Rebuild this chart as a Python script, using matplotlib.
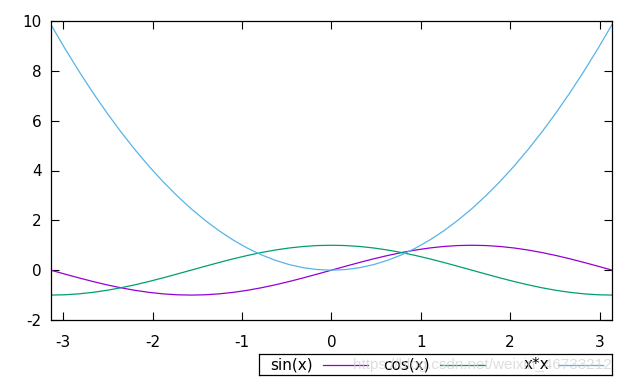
import matplotlib
matplotlib.use("Agg")
import matplotlib.pyplot as plt
from matplotlib.lines import Line2D

plt.rcParams['font.family'] = ['DejaVu Sans']
plt.rcParams['axes.unicode_minus'] = False

# sample points (k * pi/20, k = -20..20)
x_vals = [-3.1416, -2.9845, -2.8274, -2.6704, -2.5133, -2.3562, -2.1991, -2.0420,
          -1.8850, -1.7279, -1.5708, -1.4137, -1.2566, -1.0996, -0.9425, -0.7854,
          -0.6283, -0.4712, -0.3142, -0.1571, 0.0, 0.1571, 0.3142, 0.4712, 0.6283,
          0.7854, 0.9425, 1.0996, 1.2566, 1.4137, 1.5708, 1.7279, 1.8850, 2.0420,
          2.1991, 2.3562, 2.5133, 2.6704, 2.8274, 2.9845, 3.1416]

sin_vals = [0.0, -0.156, -0.309, -0.454, -0.588, -0.707, -0.809, -0.891, -0.951, -0.988,
            -1.0, -0.988, -0.951, -0.891, -0.809, -0.707, -0.588, -0.454, -0.309, -0.156,
            0.0, 0.156, 0.309, 0.454, 0.588, 0.707, 0.809, 0.891, 0.951, 0.988,
            1.0, 0.988, 0.951, 0.891, 0.809, 0.707, 0.588, 0.454, 0.309, 0.156, 0.0]

cos_vals = [-1.0, -0.988, -0.951, -0.891, -0.809, -0.707, -0.588, -0.454, -0.309, -0.156,
            0.0, 0.156, 0.309, 0.454, 0.588, 0.707, 0.809, 0.891, 0.951, 0.988,
            1.0, 0.988, 0.951, 0.891, 0.809, 0.707, 0.588, 0.454, 0.309, 0.156,
            0.0, -0.156, -0.309, -0.454, -0.588, -0.707, -0.809, -0.891, -0.951, -0.988, -1.0]

sq_vals = [9.870, 8.908, 7.995, 7.131, 6.317, 5.552, 4.836, 4.170, 3.553, 2.986,
           2.467, 1.999, 1.579, 1.209, 0.888, 0.617, 0.395, 0.222, 0.0987, 0.0247,
           0.0, 0.0247, 0.0987, 0.222, 0.395, 0.617, 0.888, 1.209, 1.579, 1.999,
           2.467, 2.986, 3.553, 4.170, 4.836, 5.552, 6.317, 7.131, 7.995, 8.908, 9.870]

series_labels = ["sin(x)", "cos(x)", "x*x"]
series_colors = ["#9400D3", "#009E73", "#56B4E9"]
x_ticks = [-3, -2, -1, 0, 1, 2, 3]
y_ticks = [-2, 0, 2, 4, 6, 8, 10]

W, H = 640, 384
fig = plt.figure(figsize=(6.4, 3.84), dpi=100)
L, R, T, B = 50.7, 612.2, 21, 320
ax = fig.add_axes([L / W, (H - B) / H, (R - L) / W, (B - T) / H])

for vals, c in zip([sin_vals, cos_vals, sq_vals], series_colors):
    ax.plot(x_vals, vals, color=c, lw=0.9)

ax.set_xlim(-3.14159, 3.14159)
ax.set_ylim(-2, 10)
ax.set_xticks(x_ticks)
ax.set_yticks(y_ticks)
ax.set_xticklabels([str(t) for t in x_ticks])
ax.set_yticklabels([str(t) for t in y_ticks])
ax.tick_params(direction='in', length=5.8, width=0.8, top=True, right=True,
               labelsize=11, colors='black')
ax.tick_params(axis='y', pad=6.5)
ax.tick_params(axis='x', pad=10.5)
for s in ax.spines.values():
    s.set_linewidth(0.9)
    s.set_color('black')

# legend box (gnuplot style: text then sample line)
lax = fig.add_axes([259 / W, (H - 375) / H, (612 - 259) / W, (375 - 354) / H])
lax.set_xlim(259, 612)
lax.set_ylim(375, 354)
lax.set_xticks([])
lax.set_yticks([])
for s in lax.spines.values():
    s.set_linewidth(0.9)
text_right = [313, 430, 549]
line_start = [323, 440, 558]
line_end = [368, 485, 603]
for lab, c, tr, ls, le in zip(series_labels, series_colors, text_right, line_start, line_end):
    lax.text(tr, 364.5, lab, ha='right', va='center', fontsize=11, zorder=3)
    lax.add_line(Line2D([ls, le], [364.5, 364.5], color=c, lw=0.9, zorder=3))

fig.text(353 / W, (H - 365) / H, "https://blog.csdn.net/weixin_46733212",
         fontsize=11, color='#d0d0d0', alpha=0.7, ha='left', va='center',
         family='Liberation Sans', zorder=10)

fig.savefig("out.png", dpi=100)
